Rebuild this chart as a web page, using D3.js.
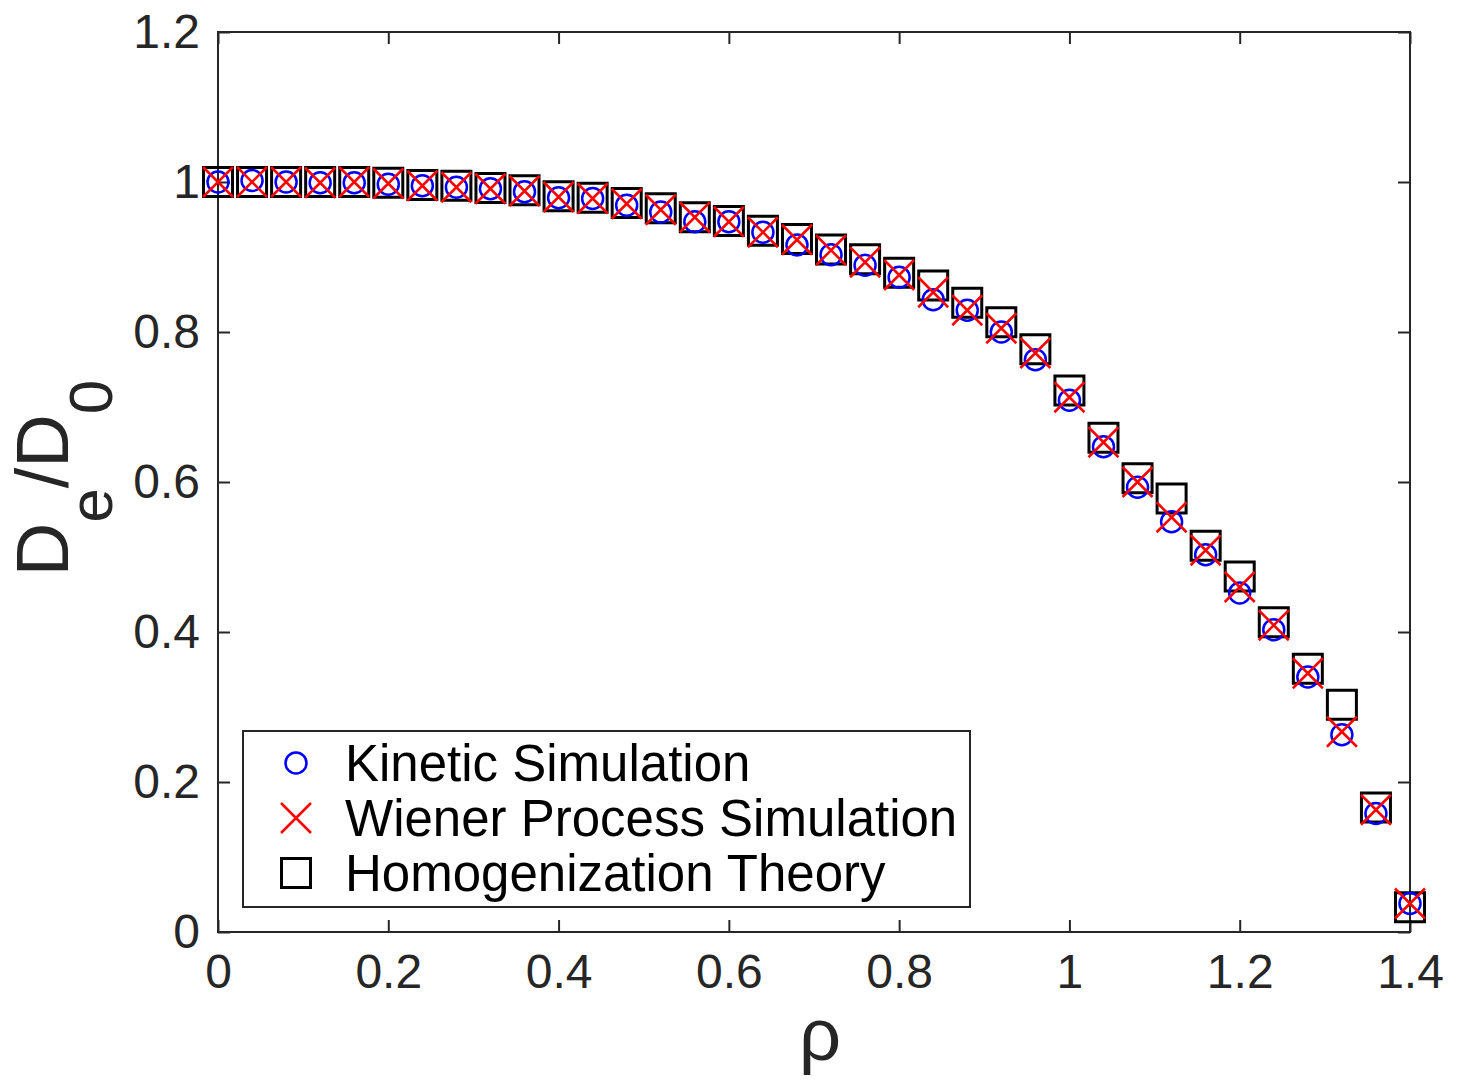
<!DOCTYPE html>
<html>
<head>
<meta charset="utf-8">
<script src="https://cdn.jsdelivr.net/npm/d3@7"></script>
<style>
  html, body { margin: 0; padding: 0; background: #fff; }
  svg { display: block; font-family: "Liberation Sans", Arial, Helvetica, sans-serif; }
</style>
</head>
<body>
<svg id="chart" width="1461" height="1080"></svg>
<script>
// Packing fraction values
const rho = [0, 0.04, 0.08, 0.12, 0.16, 0.20, 0.24, 0.28, 0.32, 0.36, 0.40, 0.44,
             0.48, 0.52, 0.56, 0.60, 0.64, 0.68, 0.72, 0.76, 0.80, 0.84, 0.88, 0.92,
             0.96, 1.00, 1.04, 1.08, 1.12, 1.16, 1.20, 1.24, 1.28, 1.32, 1.36, 1.40];

// Kinetic simulation (circles)
const kinetic = [1.000, 1.002, 1.000, 0.999, 0.999, 0.997, 0.995, 0.993, 0.991, 0.987, 0.979, 0.978,
                 0.969, 0.960, 0.947, 0.947, 0.933, 0.916, 0.903, 0.889, 0.873, 0.843, 0.829, 0.800,
                 0.763, 0.709, 0.647, 0.593, 0.547, 0.503, 0.452, 0.403, 0.340, 0.263, 0.158, 0.038];

// Wiener process simulation (crosses)
const wiener = [1.000, 1.000, 1.000, 0.999, 1.000, 0.998, 0.995, 0.993, 0.991, 0.988, 0.980, 0.978,
                0.971, 0.963, 0.953, 0.947, 0.933, 0.923, 0.909, 0.893, 0.876, 0.853, 0.829, 0.805,
                0.772, 0.713, 0.653, 0.600, 0.553, 0.509, 0.460, 0.409, 0.345, 0.267, 0.163, 0.038];

// Homogenization theory (squares)
const theory = [1.000, 1.000, 1.000, 1.000, 1.000, 0.999, 0.996, 0.995, 0.992, 0.989, 0.981, 0.979,
                0.972, 0.965, 0.953, 0.948, 0.935, 0.924, 0.910, 0.897, 0.879, 0.862, 0.839, 0.813,
                0.777, 0.722, 0.659, 0.605, 0.578, 0.515, 0.474, 0.413, 0.351, 0.303, 0.166, 0.033];

const xTicks = [0, 0.2, 0.4, 0.6, 0.8, 1, 1.2, 1.4];
const yTicks = [0, 0.2, 0.4, 0.6, 0.8, 1, 1.2];
const legendLabels = ["Kinetic Simulation", "Wiener Process Simulation", "Homogenization Theory"];

const svg = d3.select("#chart");
const L = 218, R = 1410, T = 32, B = 932;
const axisColor = "#262626";

const x = d3.scaleLinear().domain([0, 1.4]).range([L, R]);
const y = d3.scaleLinear().domain([0, 1.2]).range([B, T]);

const fmt = d => String(+d.toFixed(1));
const tickLen = 12;

// Axes with inward ticks on all four sides
const axes = svg.append("g");
function styleAxis(g) {
  g.select(".domain").remove();
  g.selectAll("line").attr("stroke", axisColor).attr("stroke-width", 2);
  g.selectAll("text").attr("fill", axisColor).style("font-size", "48px");
}
axes.append("g").attr("transform", `translate(0,${B})`)
  .call(d3.axisBottom(x).tickValues(xTicks).tickFormat(fmt).tickSizeInner(-tickLen).tickPadding(tickLen + 10))
  .call(styleAxis)
  .selectAll("text").attr("dy", "0.71em");
axes.append("g").attr("transform", `translate(0,${T})`)
  .call(d3.axisTop(x).tickValues(xTicks).tickFormat("").tickSizeInner(-tickLen))
  .call(styleAxis);
axes.append("g").attr("transform", `translate(${L},0)`)
  .call(d3.axisLeft(y).tickValues(yTicks).tickFormat(fmt).tickSizeInner(-tickLen).tickPadding(tickLen + 6))
  .call(styleAxis);
axes.append("g").attr("transform", `translate(${R},0)`)
  .call(d3.axisRight(y).tickValues(yTicks).tickFormat("").tickSizeInner(-tickLen))
  .call(styleAxis);
axes.append("rect")
  .attr("x", L).attr("y", T).attr("width", R - L).attr("height", B - T)
  .attr("fill", "none").attr("stroke", axisColor).attr("stroke-width", 2);

// Marker shapes
const sq = 29, rc = 10.5, cx = 15;
function drawSquare(g, px, py) {
  g.append("rect").attr("x", px - sq / 2).attr("y", py - sq / 2)
    .attr("width", sq).attr("height", sq)
    .attr("fill", "none").attr("stroke", "#000").attr("stroke-width", 3);
}
function drawCircle(g, px, py) {
  g.append("circle").attr("cx", px).attr("cy", py).attr("r", rc)
    .attr("fill", "none").attr("stroke", "#0000ff").attr("stroke-width", 2.5);
}
function drawCross(g, px, py) {
  g.append("path")
    .attr("d", `M${px - cx},${py - cx}L${px + cx},${py + cx}M${px - cx},${py + cx}L${px + cx},${py - cx}`)
    .attr("stroke", "#ff0000").attr("stroke-width", 2.5).attr("fill", "none");
}

const marks = svg.append("g");
const gSq = marks.append("g"), gCi = marks.append("g"), gCr = marks.append("g");
rho.forEach((r, i) => {
  drawSquare(gSq, x(r), y(theory[i]));
  drawCircle(gCi, x(r), y(kinetic[i]));
  drawCross(gCr, x(r), y(wiener[i]));
});

// Legend
const lg = svg.append("g");
lg.append("rect").attr("x", 243).attr("y", 731).attr("width", 727).attr("height", 176)
  .attr("fill", "#fff").attr("stroke", axisColor).attr("stroke-width", 2);
const rowY = [763, 818, 873];
const drawers = [drawCircle, drawCross, drawSquare];
legendLabels.forEach((lab, i) => {
  drawers[i](lg, 296, rowY[i]);
  lg.append("text").attr("x", 345).attr("y", rowY[i]).attr("dy", "0.36em")
    .attr("fill", "#000").style("font-size", "51px").text(lab);
});

// Axis labels
svg.append("text")
  .attr("x", 820).attr("y", 1060).attr("text-anchor", "middle")
  .attr("fill", axisColor).style("font-size", "74px").text("ρ");

const yl = svg.append("text")
  .attr("transform", `translate(68,478) rotate(-90)`)
  .attr("text-anchor", "middle")
  .attr("fill", axisColor).style("font-size", "74px");
yl.append("tspan").text("D");
yl.append("tspan").attr("dy", 44).style("font-size", "62px").text("e");
yl.append("tspan").attr("dy", -44).text("/D");
yl.append("tspan").attr("dy", 44).style("font-size", "62px").text("0");
</script>
</body>
</html>
